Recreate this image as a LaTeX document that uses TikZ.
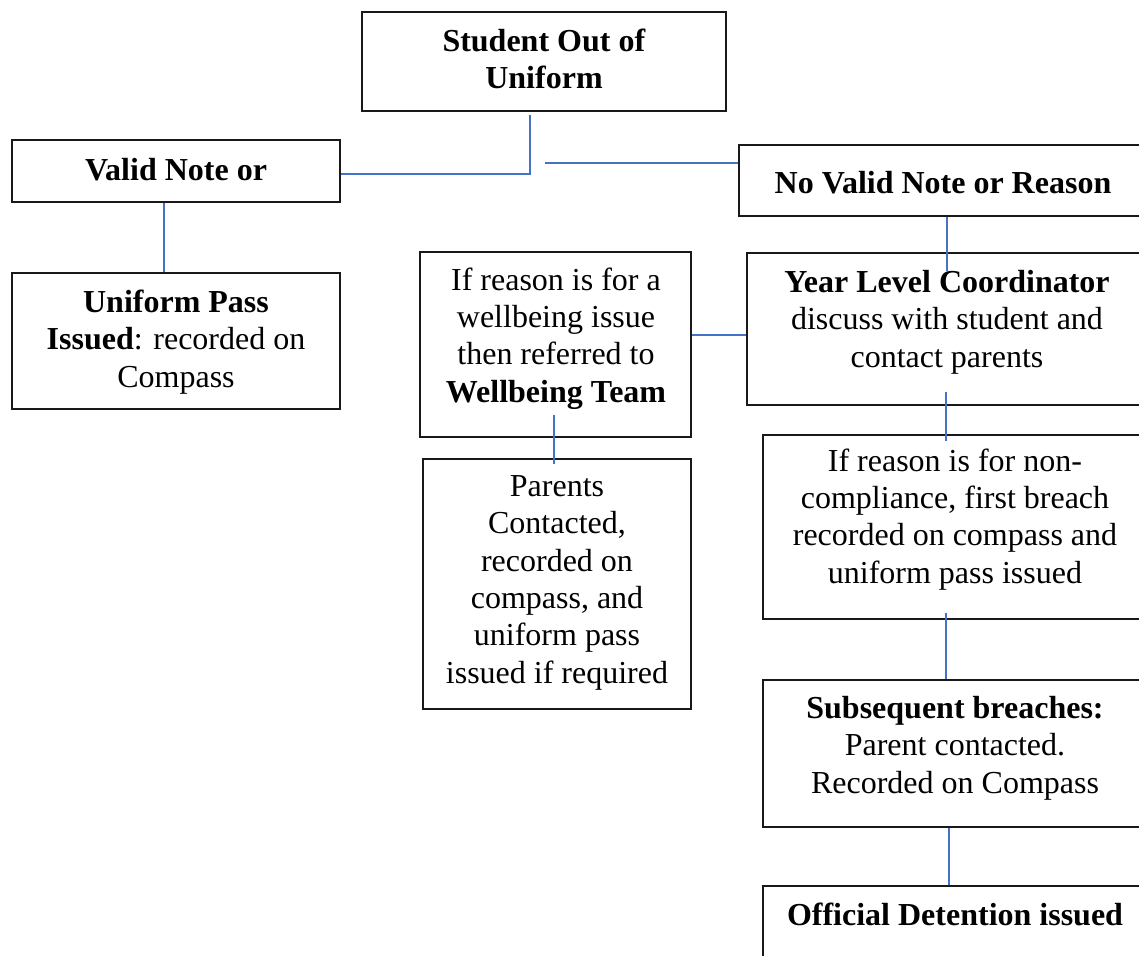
\documentclass[tikz,border=0pt]{standalone}
\usepackage{fontspec}
\setmainfont{Liberation Serif}
\begin{document}
\begin{tikzpicture}[x=1pt,y=-1pt,
  box/.style={draw=black!90, line width=1.4pt, rectangle, inner sep=0pt},
  txt/.style={font=\fontsize{32}{37.3}\selectfont, align=center, inner sep=0pt, anchor=base},
  conn/.style={draw={rgb,255:red,68;green,114;blue,196}, line width=2pt}]
\useasboundingbox (0,0) rectangle (1139,955);
\clip (0,0) rectangle (1139,955);
\fill[white] (0,0) rectangle (1139,955);
% boxes
\node[box, minimum width=364, minimum height=99]  (top)   at (544,61.5) {};
\node[box, minimum width=328, minimum height=62]  (valid) at (176,171) {};
\node[box, minimum width=328, minimum height=136] (pass)  at (176,341) {};
\node[box, minimum width=408, minimum height=71]  (novalid) at (943,180.5) {};
\node[box, minimum width=400, minimum height=152] (ylc)   at (947,329) {};
\node[box, minimum width=271, minimum height=185] (wb)    at (555.5,344.5) {};
\node[box, minimum width=268, minimum height=250] (par)   at (557,584) {};
\node[box, minimum width=384, minimum height=184] (nc)    at (955,527) {};
\node[box, minimum width=384, minimum height=147] (sub)   at (955,753.5) {};
\node[box, minimum width=384, minimum height=114] (off)   at (955,943) {};
% texts (anchor base = baseline of the last line)
\node[txt] (topT) at (544,89) {\textbf{Student Out of}\\\textbf{Uniform}};
\node[txt] (validT) at (176,180) {\textbf{Valid Note or}};
\node[txt] (passT) at (176,387) {\textbf{Uniform Pass}\\\textbf{Issued}: recorded on\\Compass};
\node[txt] (novalidT) at (943,193) {\textbf{No Valid Note or Reason}};
\node[txt] (ylcT) at (947,367) {\textbf{Year Level Coordinator}\\discuss with student and\\contact parents};
\node[txt] (wbT) at (556,402) {If reason is for a\\wellbeing issue\\then referred to\\\textbf{Wellbeing Team}};
\node[txt] (parT) at (557,683) {Parents\\Contacted,\\recorded on\\compass, and\\uniform pass\\issued if required};
\node[txt] (ncT) at (955,583) {If reason is for non-\\compliance, first breach\\recorded on compass and\\uniform pass issued};
\node[txt] (subT) at (955,793) {\textbf{Subsequent breaches:}\\Parent contacted.\\Recorded on Compass};
\node[txt] (offT) at (955,925) {\textbf{Official Detention issued}};
% connectors
\draw[conn] ([xshift=-14pt,yshift=-3pt]top.south) |- ([yshift=-3pt]valid.east);
\coordinate (rstart) at (545,163);
\draw[conn] (rstart) -- (rstart -| novalid.west);
\draw[conn] ([xshift=-12pt]valid.south) -- ([xshift=-12pt]pass.north);
\draw[conn] (ylc.north |- novalid.south) -- ([yshift=-19pt]ylc.north);
\draw[conn] ([yshift=10pt]wb.east) -- ([yshift=10pt]wb.east -| ylc.west);
\draw[conn] ([xshift=-1pt,yshift=14pt]ylc.south) -- ([xshift=-9pt,yshift=-7pt]nc.north);
\draw[conn] ([xshift=-1.5pt,yshift=23pt]wb.south) -- ([xshift=-3pt,yshift=-6pt]par.north);
\draw[conn] ([xshift=-9pt,yshift=7pt]nc.south) -- ([xshift=-9pt]sub.north);
\draw[conn] ([xshift=-6pt]sub.south) -- ([xshift=-6pt]off.north);
\end{tikzpicture}
\end{document}
